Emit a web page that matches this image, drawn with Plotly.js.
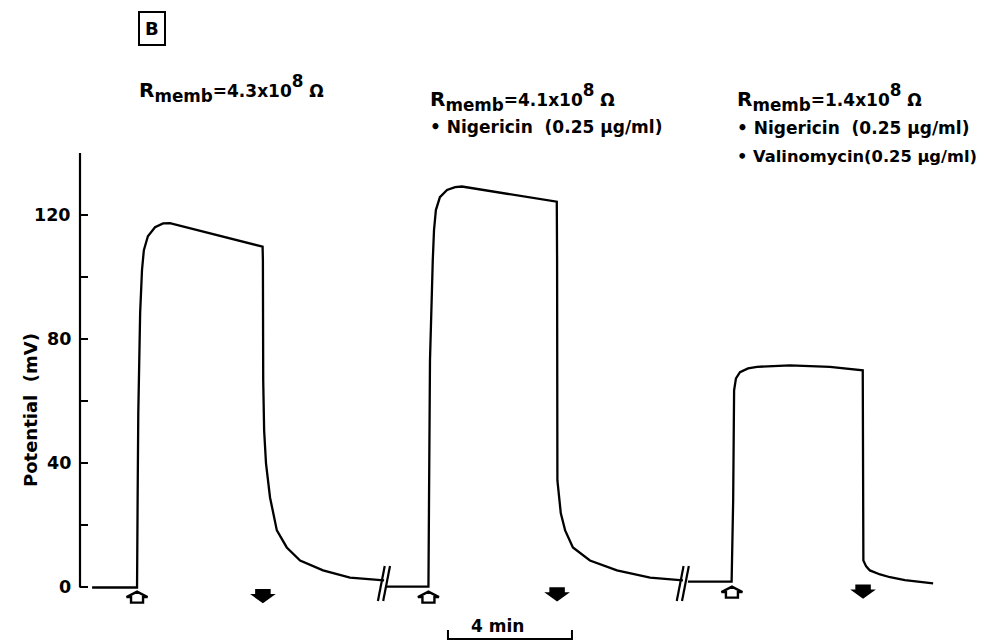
<!DOCTYPE html>
<html><head><meta charset="utf-8">
<script src="https://cdn.plot.ly/plotly-3.0.1.min.js"></script>
<style>html,body{margin:0;padding:0;background:#fff}#chart{width:983px;height:642px}</style>
</head><body><div id="chart"></div>
<script>
// Time (min) and membrane potential (mV)
const t1 = [0.39, 1.84, 1.86, 1.88, 1.94, 2.00, 2.06, 2.19, 2.42, 2.68, 2.90, 5.89, 5.90, 5.91, 5.94, 6.00, 6.13, 6.35, 6.67, 7.10, 7.84, 8.71, 9.81];
const v1 = [0, 0, 30, 56.1, 88.4, 102.3, 108.7, 113.2, 116.1, 117.3, 117.4, 109.8, 105.5, 66.8, 50.6, 40.0, 29.0, 18.4, 12.9, 8.7, 5.5, 3.2, 2.3];

const t2 = [9.87, 11.24, 11.26, 11.29, 11.38, 11.42, 11.48, 11.61, 11.84, 12.10, 12.32, 15.38, 15.39, 15.40, 15.51, 15.65, 15.90, 16.45, 17.32, 18.39, 19.45];
const v2 = [0.3, 0.3, 30, 73.2, 105.5, 115.2, 121.6, 125.8, 128.1, 129.0, 129.2, 124.3, 105.5, 34.5, 23.9, 18.4, 12.9, 8.7, 5.5, 3.2, 2.3];

const t3 = [19.61, 21.02, 21.07, 21.10, 21.16, 21.29, 21.55, 21.84, 22.90, 24.19, 25.25, 25.26, 25.27, 25.36, 25.48, 25.81, 26.13, 26.61, 27.19, 27.52];
const v3 = [1.9, 1.9, 28.1, 63.5, 67.4, 69.4, 70.6, 71.1, 71.6, 71.1, 70.0, 47.4, 8.7, 6.8, 5.5, 4.2, 3.3, 2.4, 1.7, 1.3];

// Stimulus on (open arrows) and off (filled arrows): time (min), level (mV)
const onTimes = [1.84, 11.24, 21.03];
const onY = [-3.1, -3.1, -1.5];
const offTimes = [5.90, 15.39, 25.26];
const offY = [-2.7, -2.1, -1.2];

// Time-axis breaks and scale bar (min)
const breakTimes = [9.81, 19.45];
const scaleBarStart = 11.87;
const scaleBarLength = 4;
const scaleBarLabel = '4 min';

const yTickVals = [0, 20, 40, 60, 80, 100, 120, 140];
const yLabelVals = [0, 40, 80, 120];
const yLabelText = ['0', '40', '80', '120'];

function rLabel(val) {
  return "<span style='font-size:20px'>R</span><sub>memb</sub><span style='font-size:17px'>=" + val +
         "x10</span><sup>8</sup><span style='font-size:17px'> Ω</span>";
}
const conditionGroups = [
  {lines: [rLabel('4.3')], x: 137, y: [89], size: [24]},
  {lines: [rLabel('4.1'), '• Nigericin  (0.25 µg/ml)'], x: 428, y: [97, 127], size: [24, 17]},
  {lines: [rLabel('1.4'), '• Nigericin  (0.25 µg/ml)', '• Valinomycin(0.25 µg/ml)'], x: 735, y: [97, 128, 157], size: [24, 17, 16.3]}
];

const FONT = 'DejaVu Sans, Liberation Sans, Arial, sans-serif';
const Y0 = -5, Y1 = 140;
const L = 80, W = 868, T = 153, H = 450;
const XR = 28;
const px = p => (p - L) / W;
const py = p => (T + H - p) / H;
const vToPaper = v => (v - Y0) / (Y1 - Y0);
const dxPx = XR / W;          // minutes per pixel
const dyPx = 1 / H;           // paper units per pixel

const lineStyle = {color: '#000', width: 2.3};
const traces = [
  {x: t1, y: v1, mode: 'lines', line: lineStyle, hoverinfo: 'skip'},
  {x: t2, y: v2, mode: 'lines', line: lineStyle, hoverinfo: 'skip'},
  {x: t3, y: v3, mode: 'lines', line: lineStyle, hoverinfo: 'skip'}
];

const shapes = [
  {type: 'line', xref: 'paper', yref: 'y', x0: 0, x1: 0, y0: 0, y1: 140, line: {color: '#000', width: 2.2}}
];
function polyPath(cx, cyPaper, pts) {
  return pts.map((p, i) => (i ? 'L' : 'M') + (cx + p[0] * dxPx) + ',' + (cyPaper - p[1] * dyPx)).join(' ') + ' Z';
}
// open "house" arrow pointing up (offsets in px from centre, +y down)
const upPts = [[-6, 5.5], [6, 5.5], [6, 0], [10.5, 0], [0, -5.5], [-10.5, 0], [-6, 0]];
// filled arrow pointing down
const downPts = [[-7, -6], [7, -6], [7, -1], [10.5, -1], [0, 6.5], [-10.5, -1], [-7, -1]];
onTimes.forEach((t, i) => {
  shapes.push({type: 'path', xref: 'x', yref: 'paper', path: polyPath(t, vToPaper(onY[i]), upPts),
    line: {color: '#000', width: 2.4}, fillcolor: 'rgba(0,0,0,0)'});
});
offTimes.forEach((t, i) => {
  shapes.push({type: 'path', xref: 'x', yref: 'paper', path: polyPath(t, vToPaper(offY[i]), downPts),
    line: {color: '#000', width: 1.5}, fillcolor: '#000'});
});
breakTimes.forEach(b => {
  [-0.1, 0.07].forEach(o => {
    shapes.push({type: 'line', xref: 'x', yref: 'paper', x0: b + o - 0.1, x1: b + o + 0.12,
      y0: py(601), y1: py(566), line: {color: '#000', width: 2.2}});
  });
});
shapes.push({type: 'path', xref: 'x', yref: 'paper',
  path: 'M' + scaleBarStart + ',' + py(630) + ' L' + scaleBarStart + ',' + py(639) +
        ' L' + (scaleBarStart + scaleBarLength) + ',' + py(639) + ' L' + (scaleBarStart + scaleBarLength) + ',' + py(630),
  line: {color: '#000', width: 2}});

const annotations = [
  {text: '<b>B</b>', xref: 'paper', yref: 'paper', x: px(152), y: py(28), xanchor: 'center', yanchor: 'middle',
   showarrow: false, font: {family: FONT, size: 18, color: '#000'}, bordercolor: '#000', borderwidth: 2, borderpad: 5},
  {text: '<b>Potential  (mV)</b>', xref: 'paper', yref: 'paper', x: px(30), y: py(410), textangle: -90,
   xanchor: 'center', yanchor: 'middle', showarrow: false, font: {family: FONT, size: 18, color: '#000'}},
  {text: '<b>' + scaleBarLabel + '</b>', xref: 'x', yref: 'paper', x: scaleBarStart + scaleBarLength / 2 - 0.39,
   y: py(626), xanchor: 'center', yanchor: 'middle', showarrow: false, font: {family: FONT, size: 17, color: '#000'}}
];
yLabelVals.forEach((v, i) => {
  annotations.push({text: '<b>' + yLabelText[i] + '</b>', xref: 'paper', yref: 'y', x: px(73), y: v,
    xanchor: 'right', yanchor: 'middle', showarrow: false, font: {family: FONT, size: 17.5, color: '#000'}});
});
conditionGroups.forEach(g => {
  g.lines.forEach((s, i) => {
    annotations.push({text: '<b>' + s + '</b>', xref: 'paper', yref: 'paper', x: px(g.x), y: py(g.y[i]),
      xanchor: 'left', yanchor: 'middle', showarrow: false, font: {family: FONT, size: g.size[i], color: '#000'}});
  });
});

const layout = {
  width: 983, height: 642,
  margin: {l: L, r: 983 - L - W, t: T, b: 642 - T - H, pad: 0},
  paper_bgcolor: '#fff', plot_bgcolor: '#fff',
  showlegend: false,
  xaxis: {range: [0, XR], visible: false, fixedrange: true},
  yaxis: {range: [Y0, Y1], tickvals: yTickVals, showticklabels: false, ticks: 'inside', ticklen: 8,
    tickwidth: 2, tickcolor: '#000', showline: false, zeroline: false, showgrid: false, fixedrange: true},
  shapes: shapes,
  annotations: annotations
};

Plotly.newPlot('chart', traces, layout, {displayModeBar: false, staticPlot: true});
</script></body></html>
